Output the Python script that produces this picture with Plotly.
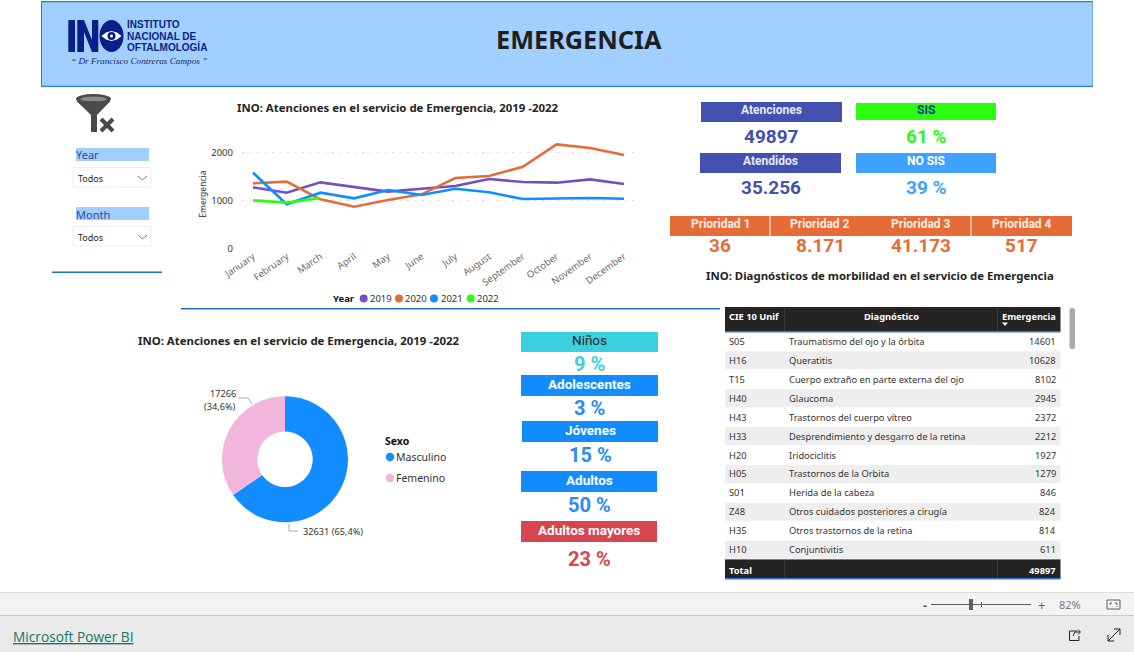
import plotly.graph_objects as go

W, H = 1134, 652

# ---- data ----
months = ["January","February","March","April","May","June","July","August","September","October","November","December"]
y2019 = [1275,1164,1380,1275,1185,1247,1303,1449,1387,1373,1442,1345]
y2020 = [1359,1394,1024,871,1010,1129,1470,1512,1707,2174,2098,1951]
y2021 = [1582,920,1164,1045,1220,1115,1247,1171,1031,1038,1052,1038]
y2022 = [1003,955,1052]
year_names = ["2019","2020","2021","2022"]
year_colors = ["#744EC2","#E66C37","#118DFF","#2BFF0F"]

sexo = ["Masculino","Femenino"]
sexo_vals = [32631,17266]
sexo_colors = ["#118DFF","#F2B5DC"]

codes = ["S05","H16","T15","H40","H43","H33","H20","H05","S01","Z48","H35","H10"]
diags = ["Traumatismo del ojo y la órbita","Queratitis","Cuerpo extraño en parte externa del ojo","Glaucoma",
         "Trastornos del cuerpo vítreo","Desprendimiento y desgarro de la retina","Iridociclitis","Trastornos de la Orbita",
         "Herida de la cabeza","Otros cuidados posteriores a cirugía","Otros trastornos de la retina","Conjuntivitis"]
counts = [14601,10628,8102,2945,2372,2212,1927,1279,846,824,814,611]
total = 49897

shapes, annos = [], []
SEGOE = "Noto Sans"
DIN = "Roboto"

def px(x): return x / W
def py(y): return 1 - y / H

def rect(x0, y0, x1, y1, fill, line=None, lw=0):
    shapes.append(dict(type="rect", xref="paper", yref="paper", x0=px(x0), x1=px(x1), y0=py(y0), y1=py(y1),
                       fillcolor=fill, line=dict(color=line or fill, width=lw), layer="below"))

def ell(cx, cy, rx, ry, fill, line=None, lw=0, layer="above"):
    shapes.append(dict(type="circle", xref="paper", yref="paper", x0=px(cx-rx), x1=px(cx+rx), y0=py(cy-ry), y1=py(cy+ry),
                       fillcolor=fill, line=dict(color=line or fill, width=lw), layer=layer))

def path(pts, color, lw=1, fill=None, close=False, layer="above"):
    d = "M " + " L ".join(f"{px(x):.5f},{py(y):.5f}" for x, y in pts) + (" Z" if close else "")
    shapes.append(dict(type="path", xref="paper", yref="paper", path=d, fillcolor=fill or "rgba(0,0,0,0)",
                       line=dict(color=color, width=lw), layer=layer))

def txt(x, y, s, size=10, color="#252423", anchor="center", font=SEGOE, bold=False, italic=False):
    if bold: s = f"<b>{s}</b>"
    if italic: s = f"<i>{s}</i>"
    annos.append(dict(x=px(x), y=py(y), xref="paper", yref="paper", text=s, showarrow=False, xanchor=anchor,
                      yanchor="middle", font=dict(size=size, color=color, family=font), borderpad=0, borderwidth=0))

# ---- header band ----
rect(41, 1, 1093, 87, "#A1CFFF")
rect(41, 1, 1093, 2.2, "#2B7CD3")
rect(41, 85.8, 1093, 87, "#2B7CD3")
rect(41, 1, 42, 87, "#2B7CD3")
rect(1092, 2, 1093, 86, "#6FAEEA")
txt(578.5, 39, "EMERGENCIA", 25.3, "#1f1f1f", bold=True)
# logo
NAVY = "#0B1F8A"
rect(68.3, 20, 75, 52, NAVY)
path([(77.3,52),(77.3,20),(84,20),(92,40),(92,20),(98.3,20),(98.3,52),(92,52),(84,32),(84,52)], NAVY, 0, NAVY, True)
ell(111.5, 36, 12, 16, NAVY)
path([(101.5,36),(106,32.5),(111.5,31),(117,32.5),(121.5,36),(117,39.5),(111.5,41),(106,39.5)], "white", 0, "white", True)
ell(111.5, 36, 4, 4, NAVY)
ell(111.5, 36, 1.5, 1.5, "white")
for yy, s in [(24.7, "INSTITUTO"), (36, "NACIONAL DE"), (47.5, "OFTALMOLOGÍA")]:
    txt(126.5, yy, s, 10, NAVY, "left", "Liberation Sans", True)
txt(139, 61, "“ Dr Francisco Contreras Campos ”", 9.2, "#1d2a5c", font="Liberation Serif", italic=True)

# ---- slicers ----
ICON = "#4a4a4a"
ell(93.5, 99, 17.5, 5, ICON)
ell(93.5, 99, 13, 2.5, "#8a8a8a")
path([(76.5,101),(91,115),(91,132),(97,132),(97,115),(110.5,101)], ICON, 0, ICON, True)
path([(101,119),(113,131)], ICON, 4)
path([(113,119),(101,131)], ICON, 4)

for lab, y0 in [("Year", 148), ("Month", 207)]:
    rect(76, y0, 149, y0+13, "#A1CFFF")
    txt(76, y0+7, lab, 11, "#2f4b9c", "left")
    rect(73, y0+19.5, 151, y0+39, "white", "#eeeeee", 1)
    txt(78, y0+30, "Todos", 9, "#252423", "left")
    path([(138, y0+28), (142.5, y0+32), (147, y0+28)], "#7a7a7a", 1)

rect(52, 271.5, 162, 273, "#1A73C8")
rect(181, 308, 720, 309.5, "#1A73C8")

# ---- line chart ----
TITLE = "INO: Atenciones en el servicio de Emergencia, 2019 -2022"
txt(398, 108, TITLE, 11.4, "#252423", bold=True)
fig = go.Figure()
for name, vals, col in zip(year_names, [y2019, y2020, y2021, y2022], year_colors):
    fig.add_trace(go.Scatter(x=months[:len(vals)], y=vals, name=name, mode="lines",
                             line=dict(color=col, width=2.6), showlegend=False))
txt(343.5, 298, "Year", 9.5, "#111111", bold=True)
for cx, tx, name, col in zip([363.7, 399, 434, 470.7], [369.5, 405, 440.5, 477], year_names, year_colors):
    ell(cx, 298.5, 4, 4, col)
    txt(tx, 298.5, name, 9.5, "#333333", "left")

# ---- donut ----
txt(299, 340, TITLE, 11.4, "#252423", bold=True)
fig.add_trace(go.Pie(labels=sexo, values=sexo_vals, hole=0.44, sort=False, direction="clockwise", rotation=0,
                     marker=dict(colors=sexo_colors, line=dict(width=0)), textinfo="none", showlegend=False,
                     domain=dict(x=[px(222), px(348)], y=[py(522.3), py(396.3)])))
pct = [v / sum(sexo_vals) * 100 for v in sexo_vals]
txt(303, 531, f"{sexo_vals[0]} ({pct[0]:.1f}%)".replace(".", ","), 9.2, "#333333", "left")
txt(235.5, 393, f"{sexo_vals[1]}", 9.2, "#333333", "right")
txt(235.5, 407, f"({pct[1]:.1f}%)".replace(".", ","), 9.2, "#333333", "right")
path([(238,398),(248,398),(252,404)], "#aaaaaa", 1)
path([(289,524),(289,531),(298,531)], "#aaaaaa", 1)
txt(385, 440.5, "Sexo", 10.5, "#111111", "left", bold=True)
for yy, name, col in zip([457, 478], sexo, sexo_colors):
    ell(390, yy, 4.2, 4.2, col)
    txt(396, yy, name, 10.5, "#333333", "left")

# ---- KPI cards ----
INDIGO = "#4250AF"
def card(x0, y0, x1, y1, label, fill, tcolor, ty, value, vy, vcolor, vsize=19, lsize=12, lbold=True):
    rect(x0, y0, x1, y1, fill)
    cx = (x0 + x1) / 2
    txt(cx, ty, label, lsize, tcolor, font=DIN, bold=lbold)
    txt(cx, vy, value, vsize, vcolor, font=DIN, bold=True)

card(701, 102, 842, 122, "Atenciones", INDIGO, "#E8EAF6", 110, "49897", 136, INDIGO)
card(856, 103, 996, 120, "SIS", "#2BFF0F", "#1a30a8", 110, "61 %", 136, "#2BFF0F")
card(700, 153, 841, 173, "Atendidos", INDIGO, "#E8EAF6", 161, "35.256", 187, INDIGO)
card(856, 153, 996, 173, "NO SIS", "#40A2FF", "#FFFFFF", 161, "39 %", 187, "#40A2FF")

ORANGE = "#E66C37"
prio_edges = [670, 770, 871, 971, 1072]
prio_names = ["Prioridad 1","Prioridad 2","Prioridad 3","Prioridad 4"]
prio_vals = ["36","8.171","41.173","517"]
for i in range(4):
    rect(prio_edges[i], 216, prio_edges[i+1], 236, ORANGE)
    cx = (prio_edges[i] + prio_edges[i+1]) / 2
    txt(cx, 224, prio_names[i], 12, "#FBEDE6", font=DIN, bold=True)
    txt(cx, 245.5, prio_vals[i], 19, ORANGE, font=DIN, bold=True)
for xx in [770, 971]:
    path([(xx,216),(xx,236)], "#ffffff", 1)

txt(879.5, 275, "INO: Diagnósticos de morbilidad en el servicio de Emergencia", 11.4, "#252423", bold=True)

age_names = ["Niños","Adolescentes","Jóvenes","Adultos","Adultos mayores"]
age_vals = ["9 %","3 %","15 %","50 %","23 %"]
age_box = [(521,332,658,352),(521,375,658,396),(522,421,658,442),(521,471,657,492),(521,521,657,542)]
age_fill = ["#3BD0DF","#118DFF","#118DFF","#118DFF","#D64550"]
age_lab_y = [340,383.5,430,480,529.5]
age_val_y = [364,408,455,505,559]
age_val_col = ["#3BD0DF","#2A8CF5","#2A8CF5","#2A8CF5","#D64550"]
age_txt_col = ["#252423","#FFFFFF","#FFFFFF","#FFFFFF","#FFFFFF"]
for n, v, b, f, ly, vy, vc, tc in zip(age_names, age_vals, age_box, age_fill, age_lab_y, age_val_y, age_val_col, age_txt_col):
    card(b[0], b[1], b[2], b[3], n, f, tc, ly, v, vy, vc, vsize=20, lsize=13.5, lbold=(n != "Niños"))

# ---- table ----
DARK = "#252423"
X0, XA, XB, X1 = 725, 784.5, 997.5, 1060.5
rect(X0, 307, X1, 331.5, DARK)
rect(X0, 331, X1, 332.5, "#2B7CD3")
txt(729, 316, "CIE 10 Unif", 9.3, "white", "left", bold=True)
txt(891, 316.5, "Diagnóstico", 9.3, "white", bold=True)
txt(1056, 316, "Emergencia", 9.2, "white", "right", bold=True)
path([(1002,322.5),(1008,322.5),(1005,326)], "white", 0, "white", True)
for i, (c, d, n) in enumerate(zip(codes, diags, counts)):
    yc = 341.3 + i * 18.95
    if i % 2 == 1:
        rect(X0, yc-9, X1, yc+9, "#EEEEEE")
    txt(729, yc, c, 9.3, "#333333", "left")
    txt(789, yc, d, 9.3, "#333333", "left")
    txt(1056, yc, str(n), 9.3, "#333333", "right")
rect(X0, 559.5, X1, 578.5, DARK)
rect(X0, 578, X1, 579.5, "#2B7CD3")
rect(X0, 559, X1, 560, "#6f7f8f")
for xx in [XA, XB]:
    path([(xx,307),(xx,331)], "#3a3a3a", 1)
    path([(xx,560),(xx,578)], "#3a3a3a", 1)
txt(729, 570.5, "Total", 9.3, "white", "left", bold=True)
txt(1056, 570.5, str(total), 9.3, "white", "right", bold=True)
shapes.append(dict(type="path", xref="paper", yref="paper", fillcolor="#ABABAB", line=dict(width=0), layer="below",
                   path=f"M {px(1069.5)},{py(310)} Q {px(1069.5)},{py(308)} {px(1072)},{py(308)} Q {px(1075)},{py(308)} {px(1075)},{py(310)} "
                        f"L {px(1075)},{py(347)} Q {px(1075)},{py(349)} {px(1072)},{py(349)} Q {px(1069.5)},{py(349)} {px(1069.5)},{py(347)} Z"))

# ---- Power BI footer ----
rect(0, 592, W, 615.5, "#F3F3F3")
rect(0, 615.5, W, H, "#EAEAEA")
rect(0, 592, W, 593, "#E0E0E0")
rect(0, 615, W, 616, "#C8C8C8")
txt(13, 636, "<u>Microsoft Power BI</u>", 13.7, "#117865", "left", font="Open Sans")
GREY = "#605E5C"
txt(924.5, 604.5, "-", 13, GREY, bold=True)
path([(931,604.5),(1031,604.5)], GREY, 1)
rect(969, 599, 973, 610, GREY)
path([(981.5,602),(981.5,607)], GREY, 1)
txt(1041, 604.5, "+", 13, GREY)
txt(1069.5, 604.5, "82%", 11, "#7a7a7a")
path([(1107,600),(1120,600),(1120,609),(1107,609)], GREY, 1, None, True)
path([(1110,605),(1110,603),(1112,603)], GREY, 1)
path([(1115,603),(1117,603),(1117,605)], GREY, 1)
path([(1117,606),(1117,607)], GREY, 1)
# share / expand icons
path([(1077,631),(1069.5,631),(1069.5,640.5),(1079,640.5),(1079,636)], "#252423", 1)
path([(1073,636),(1075,632),(1080,632)], "#252423", 1)
path([(1078,629.5),(1080.5,632),(1078,634.5)], "#252423", 1)
path([(1108,641),(1120,629)], "#252423", 1)
path([(1114,629),(1120,629),(1120,635)], "#252423", 1)
path([(1108,635),(1108,641),(1114,641)], "#252423", 1)

# ---- axes ----
x_step = (624 - 253) / 11
fig.update_layout(
    width=W, height=H, autosize=False, margin=dict(l=0, r=0, t=0, b=0, autoexpand=False),
    paper_bgcolor="white", plot_bgcolor="rgba(0,0,0,0)", showlegend=False,
    shapes=shapes, annotations=annos, font=dict(family=SEGOE),
    xaxis=dict(domain=[px(242), px(636)], range=[(242-253)/x_step, (636-253)/x_step], type="category",
               categoryorder="array", categoryarray=months, tickmode="array", tickvals=months, tickangle=-35,
               showgrid=False, zeroline=False, showline=False, ticks="", tickfont=dict(size=9.5, color="#6b6a68", family=SEGOE)),
    yaxis=dict(domain=[py(248.3), py(140)], range=[0, (248.3-140)/47.8*1000], tickvals=[0, 1000, 2000],
               showgrid=True, gridcolor="#D9D9D9", griddash="1.5px,6px", gridwidth=1, zeroline=False, showline=False, ticks="",
               ticklabelstandoff=8, tickfont=dict(size=9.5, color="#333333", family=SEGOE),
               title=dict(text="Emergencia", font=dict(size=8.5, color="#333333", family=SEGOE), standoff=3)),
)
fig.write_html("out.html", config=dict(displayModeBar=False),
               post_script="document.body.style.margin='0';document.body.style.overflow='hidden';")
